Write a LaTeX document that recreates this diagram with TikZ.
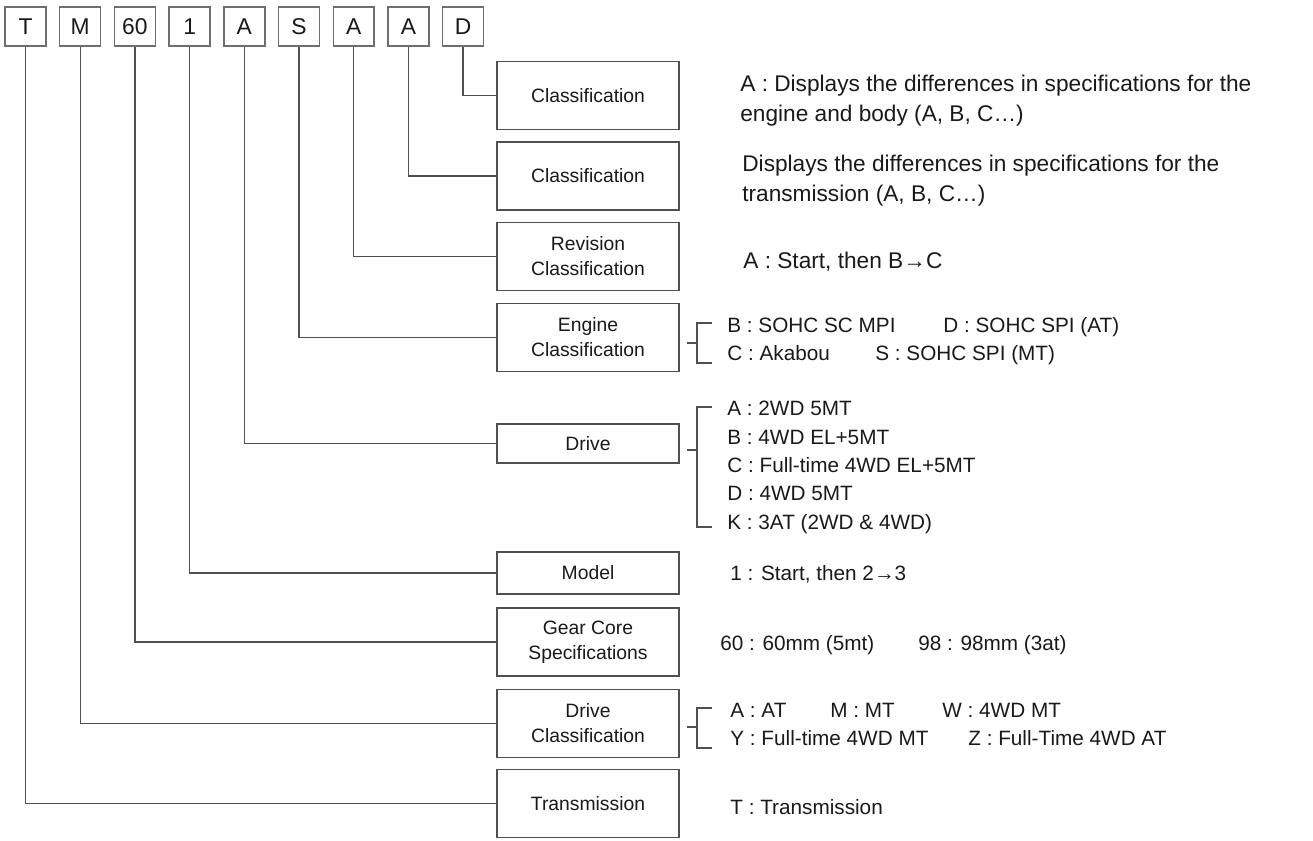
\documentclass[tikz,border=0pt]{standalone}
\usepackage{fontspec}
\setmainfont{Liberation Sans}
\usetikzlibrary{positioning}

\definecolor{linegray}{RGB}{80,80,80}
\definecolor{boxgray}{RGB}{110,110,110}
\definecolor{textblack}{RGB}{25,25,25}

\begin{document}
\begin{tikzpicture}[
    x=0.02cm, y=-0.02cm,
    every node/.style={text=textblack},
    codebox/.style={draw=boxgray, line width=0.8pt, minimum width=0.82cm, minimum height=0.78cm,
        inner sep=0pt, font=\fontsize{13}{15}\selectfont},
    descbox/.style={draw=linegray, line width=0.7pt, minimum width=3.64cm, inner sep=0pt,
        align=center, font=\fontsize{11}{14.2}\selectfont},
    tallbox/.style={descbox, minimum height=1.36cm},
    note/.style={anchor=base west, inner sep=0pt, font=\fontsize{12.9}{17}\selectfont},
    option/.style={anchor=base west, inner sep=0pt, font=\fontsize{11.8}{15}\selectfont},
    link/.style={draw=linegray, line width=0.7pt}
]
\useasboundingbox (0,0) rectangle (1313,840);

% Code letters
\foreach \i/\c/\n in {0/T/cT, 1/M/cM, 2/60/cSix, 3/1/cOne, 4/A/cDrv, 5/S/cEng, 6/A/cRev, 7/A/cTrm, 8/D/cBody} {
    \node[codebox] (\n) at ({25.5+54.7*\i}, 26.5) {\c};
}

% Meaning boxes
\node[tallbox] (bBody) at (588, 95.5) {Classification};
\node[tallbox] (bTrm) at (588, 176) {Classification};
\node[tallbox] (bRev) at (588, 256.5) {Revision\\Classification};
\node[tallbox] (bEng) at (588, 337.5) {Engine\\Classification};
\node[descbox, minimum height=0.78cm] (bDrv) at (588, 443.5) {Drive};
\node[descbox, minimum height=0.84cm] (bOne) at (588, 573) {Model};
\node[tallbox] (bSix) at (588, 642) {Gear Core\\Specifications};
\node[tallbox] (bM) at (588, 723.5) {Drive\\Classification};
\node[tallbox] (bT) at (588, 803.5) {Transmission};

% Letter to box
\foreach \a/\b in {cBody/bBody, cTrm/bTrm, cRev/bRev, cEng/bEng, cDrv/bDrv, cOne/bOne, cSix/bSix, cM/bM, cT/bT} {
    \draw[link] (\a.south) |- (\b.west);
}

% Brackets
\foreach \t/\m/\b in {323/343/363, 407/450/527, 708/727/748} {
    \draw[link] (687,\m) -- (697,\m) (712,\t) -- (697,\t) -- (697,\b) -- (712,\b);
}

% Descriptions
\node[note] (dBody1) at (740, 91) {A : Displays the differences in specifications for the};
\node[note] (dBody2) at (740, 121) {engine and body (A, B, C…)};
\node[note] (dTrm1) at (742, 171) {Displays the differences in specifications for the};
\node[note] (dTrm2) at (742, 201) {transmission (A, B, C…)};
\node[note] (dRev) at (743, 268) {A : Start, then B→C};

\node[option] (eB) at (727, 332) {B : SOHC SC MPI};
\node[option] (eD) at (943, 332) {D : SOHC SPI (AT)};
\node[option] (eC) at (727, 360) {C : Akabou};
\node[option] (eS) at (875, 360) {S : SOHC SPI (MT)};

\foreach \y/\t [count=\k] in {415/A : 2WD 5MT, 444/B : 4WD EL+5MT, 472/C : Full-time 4WD EL+5MT,
        500/D : 4WD 5MT, 529/K : 3AT (2WD \& 4WD)} {
    \node[option] (v\k) at (727, \y) {\t};
}

\node[option] (dOne) at (730, 580) {1 : Start, then 2→3};
\node[option] (g60) at (720, 650) {60 : 60mm (5mt)};
\node[option] (g98) at (918, 650) {98 : 98mm (3at)};

\node[option] (mA) at (730, 717) {A : AT};
\node[option] (mM) at (830, 717) {M : MT};
\node[option] (mW) at (942, 717) {W : 4WD MT};
\node[option] (mY) at (730, 745) {Y : Full-time 4WD MT};
\node[option] (mZ) at (968, 745) {Z : Full-Time 4WD AT};

\node[option] (dT) at (730, 814) {T : Transmission};

\end{tikzpicture}
\end{document}
